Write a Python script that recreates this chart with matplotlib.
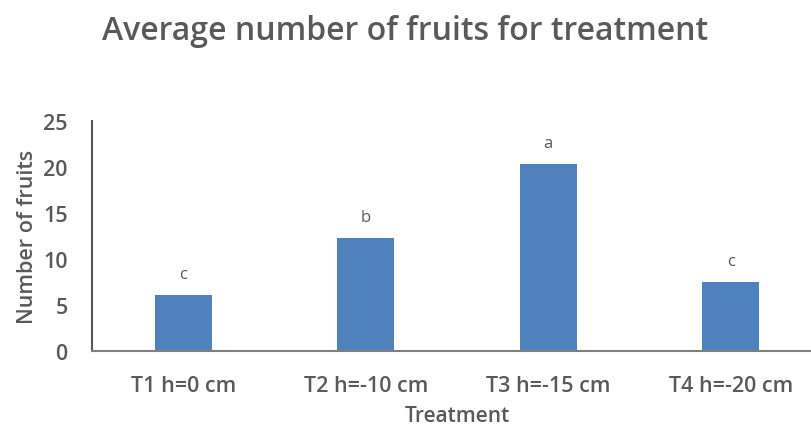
import matplotlib.pyplot as plt
import numpy as np

# Data
treatments = ['T1 h=0 cm', 'T2 h=-10 cm', 'T3 h=-15 cm', 'T4 h=-20 cm']
fruits = [6.1, 12.25, 20.3, 7.5]
letters = ['c', 'b', 'a', 'c']
y_ticks = [0, 5, 10, 15, 20, 25]

bar_color = '#4f81bd'
text_color = '#595959'

plt.rcParams['font.family'] = ['Open Sans', 'DejaVu Sans']

fig = plt.figure(figsize=(8.11, 4.31), dpi=100)
ax = fig.add_axes([92 / 811, 79 / 431, 730 / 811, 230 / 431])

x = np.arange(len(treatments))
ax.bar(x, fruits, width=0.31, color=bar_color, zorder=2)

# Significance letters above bars
for xi, val, lab in zip(x, fruits, letters):
    ax.text(xi, val + 1.4, lab, ha='center', va='bottom', fontsize=12, color=text_color)

ax.set_xlim(-0.5, 3.5)
ax.set_ylim(0, 25)
ax.set_yticks(y_ticks)
ax.set_xticks(x)
ax.set_xticklabels(treatments, fontsize=15.5, fontweight='semibold', color=text_color)
ax.tick_params(axis='y', labelsize=15.5, labelcolor=text_color, length=0, pad=17.5)
ax.tick_params(axis='x', length=0, pad=17)
for lbl in ax.get_yticklabels():
    lbl.set_fontweight('semibold')

for side in ['top', 'right']:
    ax.spines[side].set_visible(False)
ax.spines['left'].set_color('#595959')
ax.spines['bottom'].set_color('#7f7f7f')
ax.spines['left'].set_linewidth(1.5)
ax.spines['bottom'].set_linewidth(1.5)

ax.set_xlabel('Treatment', fontsize=15, fontweight='semibold', color=text_color, labelpad=7)
ax.set_ylabel('Number of fruits', fontsize=15.5, fontweight='semibold', color=text_color, labelpad=4)

fig.text(0.5, 1 - 32 / 431, 'Average number of fruits for treatment', ha='center', va='center',
         fontsize=23, fontweight='semibold', color=text_color)

fig.savefig('out.png', dpi=100)
